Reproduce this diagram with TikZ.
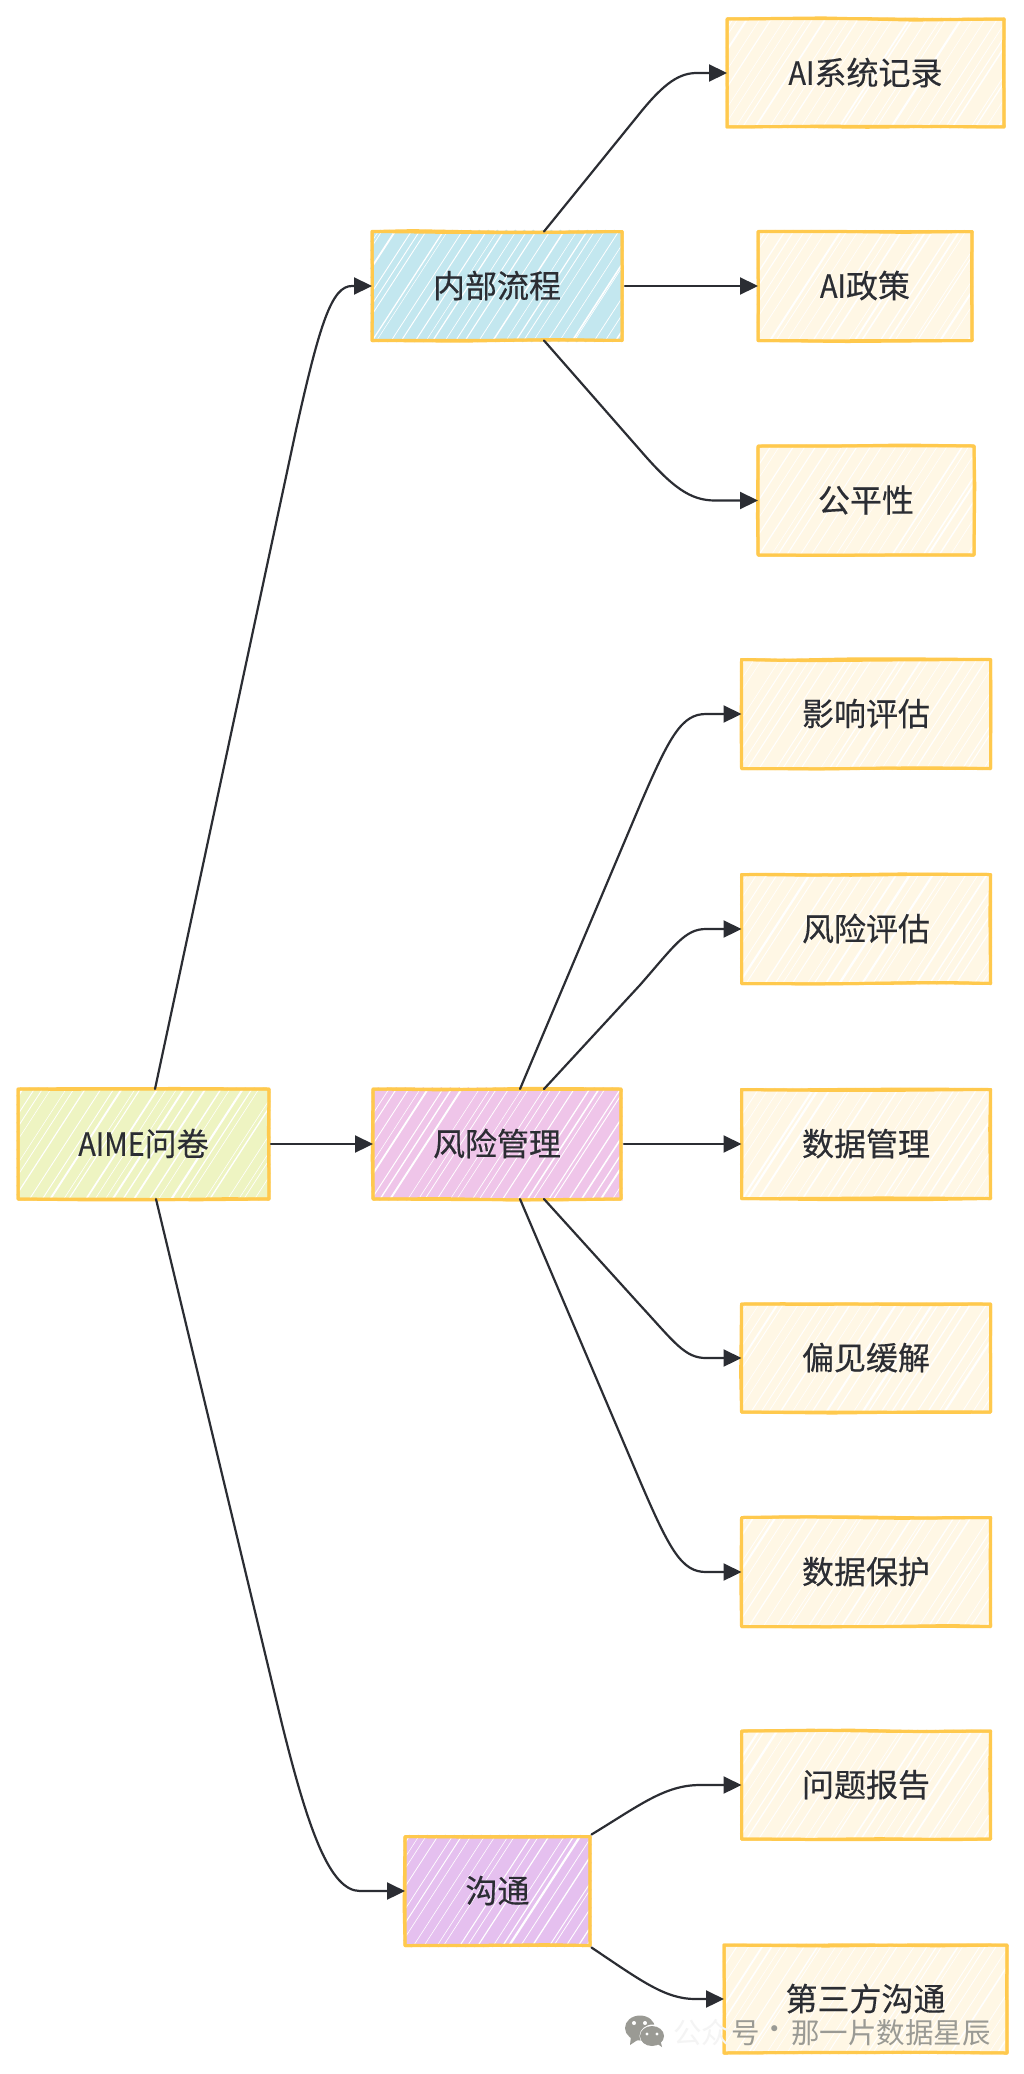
\documentclass[tikz,border=0pt]{standalone}
\usepackage{fontspec}
\usetikzlibrary{arrows.meta,decorations.pathmorphing}
\setmainfont[FakeBold=0.35]{Noto Sans CJK SC}
\newfontfamily\narrowlatin[FakeStretch=0.9,FakeBold=0.35]{Noto Sans CJK SC}
\newfontfamily\markfont{Noto Sans CJK SC}
\newcommand\up[1]{\raisebox{3.5pt}{#1}}
\definecolor{inkc}{HTML}{2B2D33}
\definecolor{edgec}{HTML}{FFC94D}
\definecolor{greenc}{HTML}{EEF4C2}
\definecolor{bluec}{HTML}{C3E7EF}
\definecolor{pinkc}{HTML}{EFC5E9}
\definecolor{purplec}{HTML}{E5C0EF}
\definecolor{creamc}{HTML}{FFF7E5}
\definecolor{markc}{HTML}{9A9A94}
\definecolor{markfaint}{HTML}{F4F4F4}
\tikzset{
  hatched/.style={path picture={
    \foreach \i in {-90,-79,...,290}{
      \pgfmathsetmacro\jx{\i+rnd*9-4.5}
      \pgfmathsetmacro\lw{0.5+rnd*rnd*1.9}
      \draw[white,line width=\lw pt] ([xshift=\jx pt]path picture bounding box.south west) -- ++(74pt,114pt);
    }}},
  sketchbox/.style={
    fill=#1,hatched,inner sep=0pt,outer sep=0pt,text=inkc,font=\fontsize{32}{36}\selectfont,
    preaction={fill=#1,decorate,decoration={zigzag,segment length=9pt,amplitude=1.8pt}},
    postaction={draw=edgec,line width=3pt,line join=round,decorate,decoration={random steps,segment length=70pt,amplitude=1pt}},
    postaction={draw=edgec,line width=3pt,line join=round,decorate,decoration={random steps,segment length=90pt,amplitude=1.2pt}}},
  link/.style={draw=inkc,line width=2.2pt,line cap=round,line join=round,-{Triangle[length=18pt,width=17pt]}},
}
\begin{document}
\begin{tikzpicture}[x=1pt,y=-1pt]
\pgfmathsetseed{7}
\useasboundingbox (0,0) rectangle (1024,2074);
\fill[white] (0,0) rectangle (1024,2074);
\node[sketchbox=greenc,minimum width=251pt,minimum height=110pt] (aime) at (143.5,1144) {\up{{\narrowlatin AIME}问卷}};
\node[sketchbox=bluec,minimum width=250pt,minimum height=109pt] (proc) at (497,286) {\up{内部流程}};
\node[sketchbox=pinkc,minimum width=248pt,minimum height=110pt] (risk) at (497,1144) {\up{风险管理}};
\node[sketchbox=purplec,minimum width=185pt,minimum height=109pt] (comm) at (497.5,1891) {\up{沟通}};
\node[sketchbox=creamc,minimum width=277pt,minimum height=108pt] (record) at (865.5,73) {\up{{\narrowlatin AI}系统记录}};
\node[sketchbox=creamc,minimum width=214pt,minimum height=109pt] (policy) at (865,286) {\up{{\narrowlatin AI}政策}};
\node[sketchbox=creamc,minimum width=216pt,minimum height=109pt] (fair) at (866,500.5) {\up{公平性}};
\node[sketchbox=creamc,minimum width=249pt,minimum height=109pt] (impact) at (866,714) {\up{影响评估}};
\node[sketchbox=creamc,minimum width=249pt,minimum height=109pt] (riskeval) at (866,929) {\up{风险评估}};
\node[sketchbox=creamc,minimum width=249pt,minimum height=109pt] (datamgmt) at (866,1144) {\up{数据管理}};
\node[sketchbox=creamc,minimum width=249pt,minimum height=108pt] (bias) at (866,1358) {\up{偏见缓解}};
\node[sketchbox=creamc,minimum width=249pt,minimum height=109pt] (protect) at (866,1572) {\up{数据保护}};
\node[sketchbox=creamc,minimum width=249pt,minimum height=108pt] (issue) at (866,1785) {\up{问题报告}};
\node[sketchbox=creamc,minimum width=283pt,minimum height=108pt] (third) at (865.5,1999) {\up{第三方沟通}};
% connectors
\draw[link] ([xshift=11.5pt]aime.north) -- (296,430) .. controls (320,322) and (332,286) .. (352,286) -- (proc.west);
\draw[link] ([xshift=2pt]aime.east) -- (risk.west);
\draw[link] ([xshift=12.5pt]aime.south) -- (281,1720) .. controls (308,1830) and (330,1891) .. (360,1891) -- (comm.west);
\draw[link] ([xshift=47pt]proc.north) -- (640,113) .. controls (665,82) and (680,73) .. (697,73) -- (record.west);
\draw[link] ([xshift=3pt]proc.east) -- (policy.west);
\draw[link] ([xshift=47pt]proc.south) -- (640,450) .. controls (672,487) and (690,500.5) .. (715,500.5) -- (fair.west);
\draw[link] ([xshift=23pt]risk.north) -- (640,805) .. controls (670,735) and (682,714) .. (706,714) -- (impact.west);
\draw[link] ([xshift=47pt]risk.north) -- (640,985) .. controls (675,945) and (685,929) .. (706,929) -- (riskeval.west);
\draw[link] ([xshift=3pt]risk.east) -- (datamgmt.west);
\draw[link] ([xshift=47pt]risk.south) -- (640,1305) .. controls (675,1343) and (685,1358) .. (706,1358) -- (bias.west);
\draw[link] ([xshift=23pt]risk.south) -- (640,1481) .. controls (670,1551) and (682,1572) .. (706,1572) -- (protect.west);
\draw[link] ([xshift=94pt,yshift=2pt]comm.north) .. controls (640,1805) and (665,1785) .. (700,1785) -- (issue.west);
\draw[link] ([xshift=94pt,yshift=-2pt]comm.south) .. controls (640,1980) and (665,1999) .. (695,1999) -- (third.west);
% watermark
\fill[markc] (640,2028) ellipse[x radius=15,y radius=12.5];
\fill[markc] (631,2036) -- (630,2045) -- (639,2039) -- cycle;
\fill[white] (653,2036) ellipse[x radius=13.5,y radius=11.5];
\fill[markc] (652,2036) ellipse[x radius=12,y radius=10];
\fill[markc] (656,2043) -- (662,2047) -- (660,2039) -- cycle;
\fill[white] (634,2023) circle[radius=2] (645,2023) circle[radius=2] (647,2034) circle[radius=1.6] (657,2034) circle[radius=1.6];
\node[anchor=west,inner sep=0pt,text=markfaint,font=\markfont\fontsize{28.5}{32}\selectfont] (markA) at (673,2033) {公众};
\node[anchor=west,inner sep=0pt,text=markc,font=\markfont\fontsize{28.5}{32}\selectfont] (markB) at (731,2033) {号};
\node[inner sep=0pt,text=markc,font=\markfont\fontsize{28.5}{32}\selectfont] (markC) at (775,2033) {·};
\node[anchor=west,inner sep=0pt,text=markc,font=\markfont\fontsize{28.5}{32}\selectfont] (markD) at (791,2033) {那一片数据星辰};
\end{tikzpicture}
\end{document}
